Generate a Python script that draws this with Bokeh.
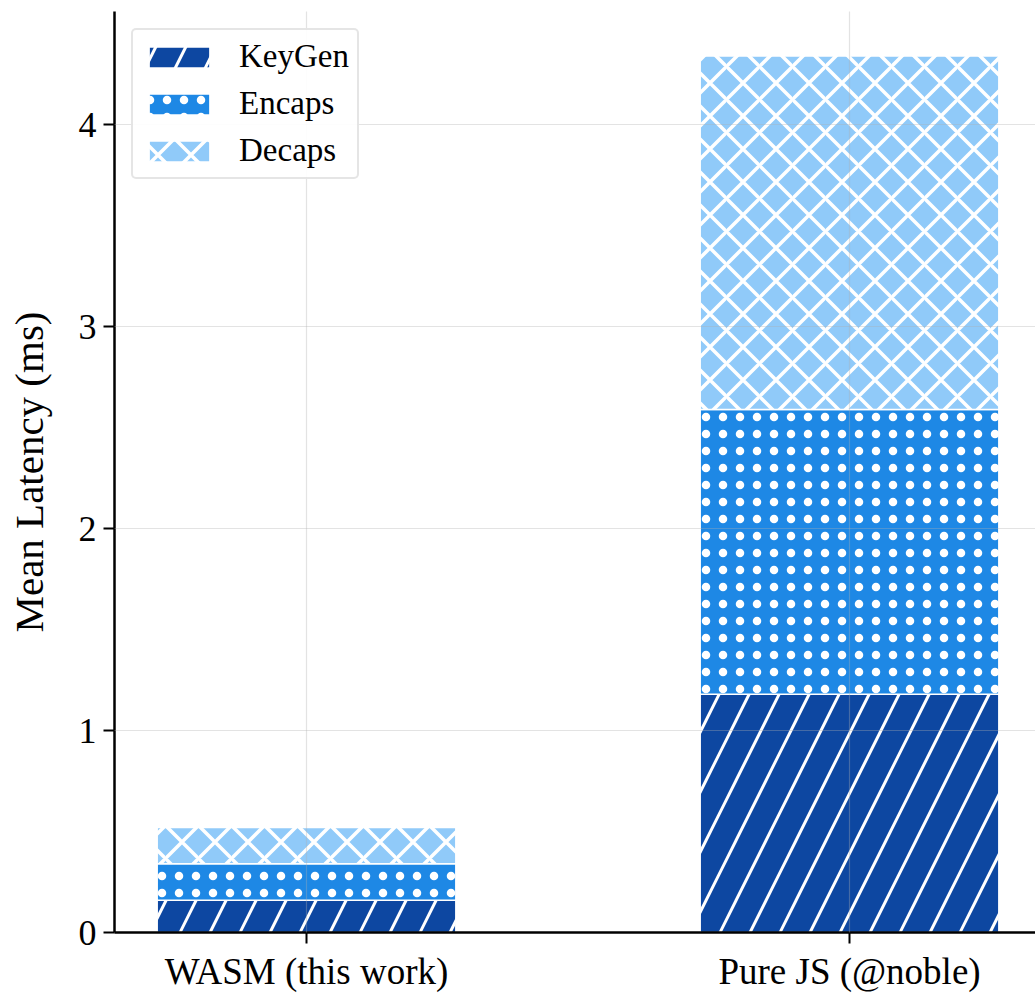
from bokeh.plotting import figure
from bokeh.models import ColumnDataSource, Range1d, FixedTicker, Legend
from bokeh.embed import file_html
from bokeh.resources import INLINE

categories = ["WASM (this work)", "Pure JS (@noble)"]
stages = ["KeyGen", "Encaps", "Decaps"]
keygen = [0.16, 1.18]
encaps = [0.18, 1.41]
decaps = [0.18, 1.75]

colors = ["#0D47A1", "#1E88E5", "#90CAF9"]
hatches = ["/", ".", "x"]
hatch_scales = [60, 17, 33]
hatch_weights = [3, 1, 3.5]

FONT = "Liberation Serif"

x = list(range(len(categories)))

p = figure(width=1035, height=995, output_backend="svg", toolbar_location=None,
           x_range=Range1d(-0.3536, 1.3425), y_range=Range1d(0, 4.56),
           min_border_left=114, min_border_right=0, min_border_top=11, min_border_bottom=63)
p.outline_line_color = None

bottom = [0.0] * len(categories)
vals = [keygen, encaps, decaps]
items = []
for i, st in enumerate(stages):
    top = [b + v for b, v in zip(bottom, vals[i])]
    src = ColumnDataSource(dict(x=x, bottom=bottom, top=top))
    r = p.vbar(x="x", bottom="bottom", top="top", width=0.55, source=src,
               fill_color=colors[i], line_color="white", line_width=1.5,
               hatch_pattern=hatches[i], hatch_color="white",
               hatch_scale=hatch_scales[i], hatch_weight=hatch_weights[i])
    items.append((st, [r]))
    bottom = top

legend = Legend(items=items, location="top_left")
legend.label_text_font = FONT
legend.label_text_font_size = "33px"
legend.label_text_color = "black"
legend.glyph_width = 76
legend.glyph_height = 26
legend.label_standoff = 22
legend.spacing = 10
legend.padding = 8
legend.margin = 17
legend.border_line_color = "#cccccc"
legend.border_line_width = 2
legend.background_fill_alpha = 0.9
try:
    legend.border_radius = 5
except Exception:
    pass
p.add_layout(legend)

p.xaxis.ticker = FixedTicker(ticks=x)
p.xaxis.major_label_overrides = {i: c for i, c in enumerate(categories)}
p.yaxis.ticker = FixedTicker(ticks=[0, 1, 2, 3, 4])

for ax in (p.xaxis, p.yaxis):
    ax.axis_line_width = 2.5
    ax.axis_line_color = "black"
    ax.major_tick_line_width = 2
    ax.major_tick_line_color = "black"
    ax.major_tick_out = 11
    ax.major_tick_in = 0
    ax.minor_tick_line_color = None
    ax.major_label_text_font = FONT
    ax.major_label_text_color = "black"
    ax.major_label_standoff = 7

p.xaxis.major_label_text_font_size = "37px"
p.yaxis.major_label_text_font_size = "36px"

p.yaxis.axis_label = "Mean Latency (ms)"
p.yaxis.axis_label_text_font = FONT
p.yaxis.axis_label_text_font_size = "41px"
p.yaxis.axis_label_text_font_style = "normal"
p.yaxis.axis_label_text_color = "black"
p.yaxis.axis_label_standoff = 24

p.grid.level = "guide"
p.grid.grid_line_color = "#b0b0b0"
p.grid.grid_line_alpha = 0.35
p.grid.grid_line_width = 1.2

open("out.html", "w").write(file_html(p, INLINE))
